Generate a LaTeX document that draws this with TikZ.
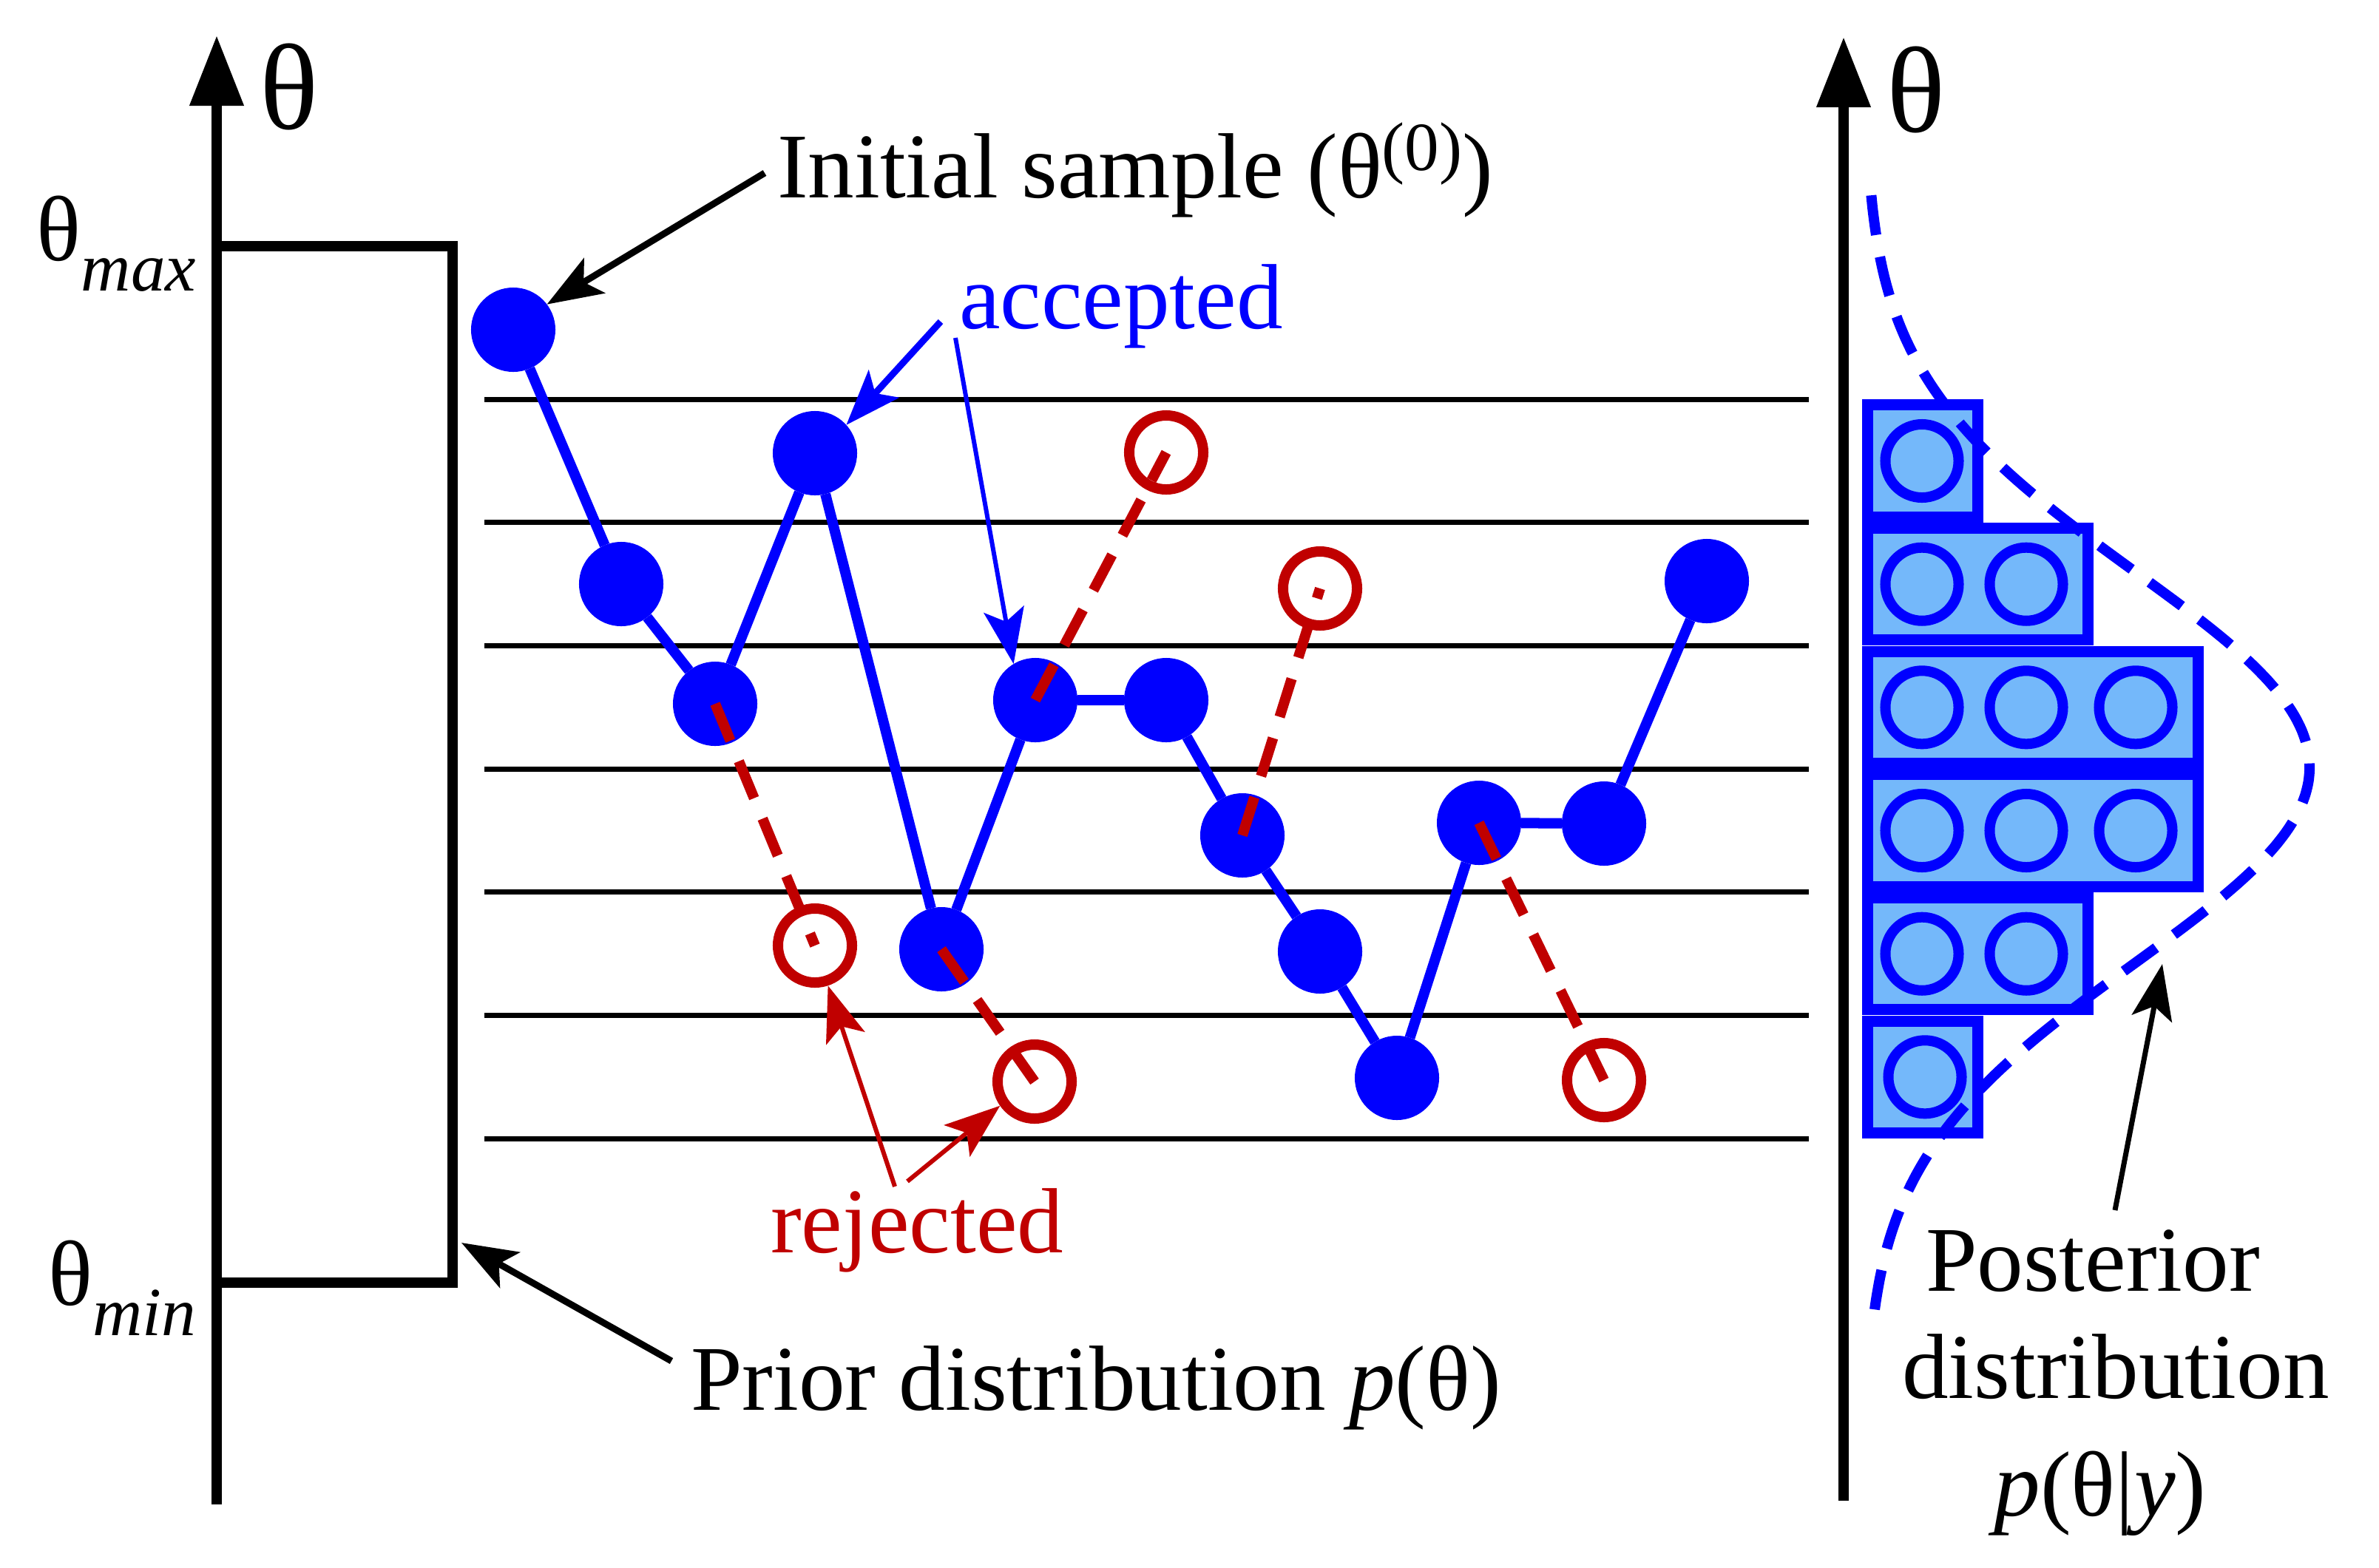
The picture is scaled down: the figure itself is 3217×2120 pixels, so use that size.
\documentclass[tikz,border=0pt]{standalone}
\usepackage{fontspec}
\setmainfont{Liberation Serif}
\usetikzlibrary{arrows.meta}
\definecolor{cblue}{RGB}{0,0,255}
\definecolor{cred}{RGB}{192,0,0}
\definecolor{cfill}{RGB}{116,184,250}
\begin{document}
\begin{tikzpicture}[x=0.01cm, y=-0.01cm,
  lbl/.style={inner sep=0pt, outer sep=0pt, font=\fontsize{35.6pt}{41pt}\selectfont},
  biglbl/.style={inner sep=0pt, outer sep=0pt, font=\fontsize{47pt}{50pt}\selectfont},
  axisarrow/.style={line width=0.14cm, -{Triangle[length=0.95cm, width=0.7cm]}},
  gridline/.style={line width=0.07cm},
  sample/.style={circle, fill=cblue, minimum size=1.14cm, inner sep=0pt, outer sep=0pt},
  rejsample/.style={circle, draw=cred, line width=0.14cm, minimum size=1.0cm, inner sep=0pt},
  chainline/.style={draw=cblue, line width=0.14cm},
  rejline/.style={draw=cred, line width=0.14cm, dash pattern=on 0.54cm off 0.30cm},
  bin/.style={rectangle, draw=cblue, fill=cfill, line width=0.15cm, minimum height=1.51cm, inner sep=0pt, outer sep=0pt, anchor=west},
  bincirc/.style={circle, draw=cblue, line width=0.14cm, minimum size=0.99cm, inner sep=0pt},
  tipped/.style={-{Stealth[length=0.75cm, width=0.55cm, inset=0.17cm]}},
  postcurve/.style={draw=cblue, line width=0.14cm, dash pattern=on 0.54cm off 0.30cm},
]
\useasboundingbox (0,0) rectangle (3217,2120);

% horizontal levels
\foreach \k in {0,...,6} {
  \draw[gridline] (655,{540+166.7*\k}) -- (2446,{540+166.7*\k});
}

% axes
\coordinate (lbot) at (293,2035);
\coordinate (ltop) at (293,48);
\coordinate (rbot) at (2493,2030);
\coordinate (rtop) at (2493,50);
\draw[axisarrow] (lbot) -- (ltop);
\draw[axisarrow] (rbot) -- (rtop);

% prior box
\node[draw, line width=0.14cm, minimum width=3.19cm, minimum height=14.01cm,
      inner sep=0pt, outer sep=0pt, anchor=north west] (prior) at (293,333) {};

% histogram
\node[bin, minimum width=1.49cm] (b1) at (2525,623.5) {};
\node[bin, minimum width=2.98cm] (b2) at (2525,790.2) {};
\node[bin, minimum width=4.47cm] (b3) at (2525,956.8) {};
\node[bin, minimum width=4.47cm] (b4) at (2525,1123.5) {};
\node[bin, minimum width=2.98cm] (b5) at (2525,1290.2) {};
\node[bin, minimum width=1.49cm] (b6) at (2525,1456.8) {};
\node[bincirc] (h11) at (2599,623.5) {};
\node[bincirc] (h21) at (2599,790.2) {};
\node[bincirc] (h22) at (2740,790.2) {};
\node[bincirc] (h31) at (2599,956.8) {};
\node[bincirc] (h32) at (2740,956.8) {};
\node[bincirc] (h33) at (2888,956.8) {};
\node[bincirc] (h41) at (2599,1123.5) {};
\node[bincirc] (h42) at (2740,1123.5) {};
\node[bincirc] (h43) at (2888,1123.5) {};
\node[bincirc] (h51) at (2599,1290.2) {};
\node[bincirc] (h52) at (2740,1290.2) {};
\node[bincirc] (h61) at (2603,1456.8) {};

% accepted samples
\node[sample] (d1) at (694,446) {};
\node[sample] (d2) at (840,790) {};
\node[sample] (d3) at (967,952) {};
\node[sample] (d4) at (1102,613) {};
\node[sample] (d5) at (1273,1284) {};
\node[sample] (d6) at (1400,947) {};
\node[sample] (d7) at (1577,947) {};
\node[sample] (d8) at (1680,1130) {};
\node[sample] (d9) at (1785,1287) {};
\node[sample] (d10) at (1889,1458) {};
\node[sample] (d11) at (2000,1113) {};
\node[sample] (d12) at (2169,1114) {};
\node[sample] (d13) at (2308,786) {};

% rejected samples
\node[rejsample] (r1) at (1102,1279) {};
\node[rejsample] (r2) at (1399,1463) {};
\node[rejsample] (r3) at (1577,612) {};
\node[rejsample] (r4) at (1785,796) {};
\node[rejsample] (r5) at (2169,1461) {};

% Markov chain of accepted samples
\draw[chainline] (d1) -- (d2) -- (d3) -- (d4) -- (d5) -- (d6) -- (d7) -- (d8)
  -- (d9) -- (d10) -- (d11) -- (d12) -- (d13);

% rejected proposals
\draw[rejline] (d3.center) -- (r1.center);
\draw[rejline] (d5.center) -- (r2.center);
\draw[rejline] (d6.center) -- (r3.center);
\draw[rejline] (d8.center) -- (r4.center);
\draw[rejline] (d11.center) -- (r5.center);

% posterior curve
\draw[postcurve] plot[domain=-2.92:2.87, samples=90, variable=\t, smooth]
  ({2522+601*exp(-0.5*\t*\t)}, {1038+265*\t});

% annotation arrows
\coordinate (initfrom) at (1034,234);
\draw[tipped, line width=0.09cm] (initfrom) -- (d1.37);
\coordinate (accfromA) at (1272,435);
\draw[tipped, draw=cblue, fill=cblue, line width=0.09cm] (accfromA) -- (d4.42);
\coordinate (accfromB) at (1292,457);
\draw[tipped, draw=cblue, fill=cblue, line width=0.06cm] (accfromB) -- (d6.121);
\coordinate (rejfromC) at (1210,1605);
\draw[tipped, draw=cred, fill=cred, line width=0.06cm] (rejfromC) -- (r1.-72);
\coordinate (rejfromD) at (1227,1598);
\draw[tipped, draw=cred, fill=cred, line width=0.06cm] (rejfromD) -- (r2.215);
\coordinate (priorfrom) at (908,1841);
\coordinate (priortip) at (624,1681);
\draw[tipped, line width=0.09cm] (priorfrom) -- (priortip);
\coordinate (postfrom) at (2860,1637);
\coordinate (posttip) at (2924,1304);
\draw[tipped, line width=0.07cm] (postfrom) -- (posttip);

% labels
\node[biglbl] (thl) at (391,118) {θ};
\node[biglbl] (thr) at (2591,122) {θ};
\node[lbl, anchor=base east] (thmax) at (265,352)
  {θ\raisebox{-11.9pt}{\fontsize{26.5pt}{26.5pt}\selectfont\textit{max}}};
\node[lbl, anchor=base east] (thmin) at (265,1765)
  {θ\raisebox{-11.9pt}{\fontsize{26.5pt}{26.5pt}\selectfont\textit{min}}};
\node[lbl, anchor=base west] (init) at (1051,267)
  {Initial sample (θ\raisebox{10.5pt}{\fontsize{26.5pt}{26.5pt}\selectfont (0)})};
\node[lbl, anchor=base west, text=cblue] (acc) at (1297,444) {accepted};
\node[lbl, anchor=base west, text=cred] (rej) at (1042,1694) {rejected};
\node[lbl, anchor=base west] (priorlbl) at (934,1907) {Prior distribution \textit{p}(θ)};
\node[lbl, anchor=base] (post1) at (2830,1746) {Posterior};
\node[lbl, anchor=base] (post2) at (2861,1891) {distribution};
\node[lbl, anchor=base] (post3) at (2840,2050) {\textit{p}(θ|\textit{y})};
\end{tikzpicture}
\end{document}
